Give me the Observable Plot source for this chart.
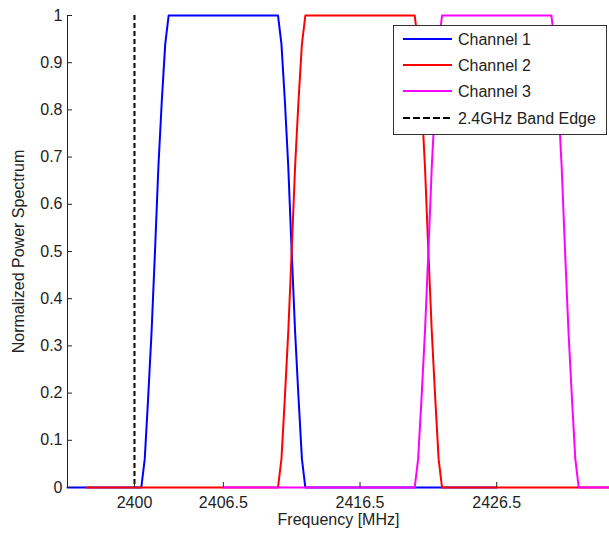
<!DOCTYPE html>
<html>
<head>
<meta charset="utf-8">
<script src="https://cdn.jsdelivr.net/npm/d3@7"></script>
<script src="https://cdn.jsdelivr.net/npm/@observablehq/plot@0.6"></script>
<style>
  html, body { margin: 0; padding: 0; background: #fff; }
  #wrap { position: relative; width: 609px; height: 538px; overflow: hidden; font-family: "Liberation Sans", Arial, sans-serif; }
  #legend { position: absolute; left: 393px; top: 25px; }
</style>
</head>
<body>
<div id="wrap"></div>
<script>
// ---- data ----
const channelNames = ["Channel 1", "Channel 2", "Channel 3"];
const channelColors = ["#0000ff", "#ff0000", "#ff00ff"];

const ch1Freq = [2386.5, 2400.5, 2400.75, 2401, 2401.25, 2401.5, 2401.75, 2402, 2402.25, 2402.5, 2410.5, 2410.75, 2411, 2411.25, 2411.5, 2411.75, 2412, 2412.25, 2412.5, 2426.5];
const ch2Freq = [2396.5, 2410.5, 2410.75, 2411, 2411.25, 2411.5, 2411.75, 2412, 2412.25, 2412.5, 2420.5, 2420.75, 2421, 2421.25, 2421.5, 2421.75, 2422, 2422.25, 2422.5, 2436.5];
const ch3Freq = [2406.5, 2420.5, 2420.75, 2421, 2421.25, 2421.5, 2421.75, 2422, 2422.25, 2422.5, 2430.5, 2430.75, 2431, 2431.25, 2431.5, 2431.75, 2432, 2432.25, 2432.5, 2446.5];
const ch1Power = [0, 0, 0.06, 0.19, 0.33, 0.5, 0.68, 0.82, 0.94, 1, 1, 0.94, 0.82, 0.68, 0.5, 0.33, 0.19, 0.06, 0, 0];
const ch2Power = [0, 0, 0.06, 0.19, 0.33, 0.5, 0.68, 0.82, 0.94, 1, 1, 0.94, 0.82, 0.68, 0.5, 0.33, 0.19, 0.06, 0, 0];
const ch3Power = [0, 0, 0.06, 0.19, 0.33, 0.5, 0.68, 0.82, 0.94, 1, 1, 0.94, 0.82, 0.68, 0.5, 0.33, 0.19, 0.06, 0, 0];

const bandEdge = [2400];
const bandEdgeLabel = "2.4GHz Band Edge";

const xTicks = [2400, 2406.5, 2416.5, 2426.5];
const yTicks = [0, 0.1, 0.2, 0.3, 0.4, 0.5, 0.6, 0.7, 0.8, 0.9, 1];
const xDomain = [2395.1, 2434.75];
const yDomain = [0, 1];
const xLabel = "Frequency [MHz]";
const yLabel = "Normalized Power Spectrum";

// ---- build tables ----
const series = [
  {freq: ch1Freq, power: ch1Power},
  {freq: ch2Freq, power: ch2Power},
  {freq: ch3Freq, power: ch3Power}
].map((s, i) => s.freq.map((f, j) => ({channel: channelNames[i], freq: f, power: s.power[j]})));

const W = 609, H = 538, ML = 67, MR = 0, MT = 15, MB = 51;
const plotW = W - ML - MR, plotH = H - MT - MB;
const ink = "#222";
const font = "'Liberation Sans', Arial, sans-serif";

const chart = Plot.plot({
  width: W, height: H,
  marginLeft: ML, marginRight: MR, marginTop: MT, marginBottom: MB,
  x: {domain: xDomain, clamp: true},
  y: {domain: yDomain},
  style: {fontFamily: font, fontSize: "16px", color: ink, background: "white", overflow: "visible"},
  marks: [
    Plot.ruleX(xDomain.slice(0, 1), {x: d => d, stroke: ink, strokeWidth: 1}),
    ...series.map((data, i) => Plot.line(data, {x: "freq", y: "power", stroke: channelColors[i], strokeWidth: 2})),
    Plot.ruleX(bandEdge, {x: d => d, stroke: "#000", strokeWidth: 2, strokeDasharray: "5,3"}),
    Plot.axisY(yTicks, {tickSize: 0, tickPadding: 5, tickFormat: d => String(d), label: null, fontSize: 16}),
    Plot.tickY(yTicks, {y: d => d, insetRight: plotW - 5, stroke: ink}),
    Plot.axisX(xTicks, {tickSize: 0, tickPadding: 9, tickFormat: d => String(d), label: null, fontSize: 16}),
    Plot.tickX(xTicks, {x: d => d, insetTop: plotH - 5, stroke: ink}),
    Plot.text([xLabel], {frameAnchor: "bottom", textAnchor: "middle", dy: 37, fontSize: 16, fill: ink}),
    Plot.text([yLabel], {frameAnchor: "left", textAnchor: "middle", dx: -49, rotate: -90, fontSize: 16, fill: ink})
  ]
});

const wrap = document.getElementById("wrap");
wrap.appendChild(chart);

// ---- legend overlay (inside plot area) ----
const lw = 214, lh = 110;
const legend = d3.select(wrap).append("svg")
  .attr("id", "legend")
  .attr("width", lw).attr("height", lh)
  .style("font-family", font).style("font-size", "16px");
legend.append("rect").attr("x", 0.5).attr("y", 0.5).attr("width", lw - 1).attr("height", lh - 1)
  .attr("fill", "white").attr("stroke", "#333").attr("stroke-width", 1);
const items = channelNames.map((n, i) => ({name: n, color: channelColors[i], dash: null}))
  .concat([{name: bandEdgeLabel, color: "#000", dash: "7,3"}]);
const rowY = [14, 40, 66, 93];
items.forEach((it, i) => {
  legend.append("line").attr("x1", 10).attr("x2", 59).attr("y1", rowY[i]).attr("y2", rowY[i])
    .attr("stroke", it.color).attr("stroke-width", 2).attr("stroke-dasharray", it.dash);
  legend.append("text").attr("x", 65).attr("y", rowY[i]).attr("dy", "0.35em")
    .attr("fill", ink).text(it.name);
});
</script>
</body>
</html>
